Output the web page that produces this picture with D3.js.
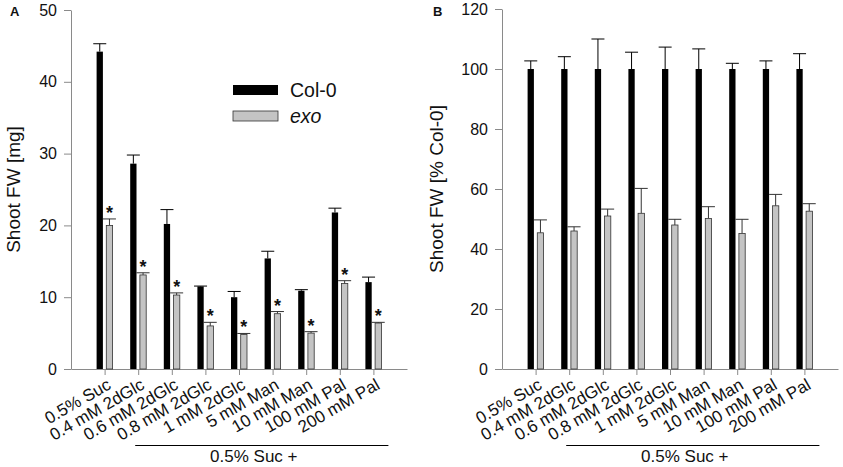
<!DOCTYPE html>
<html>
<head>
<meta charset="utf-8">
<script src="https://cdn.jsdelivr.net/npm/d3@7"></script>
<style>
  body { margin: 0; background: #fff; }
  svg text { font-family: "Liberation Sans", Arial, sans-serif; fill: #111; }
</style>
</head>
<body>
<div id="app"></div>
<script>
// treatments (same for both panels)
const CATEGORIES = ['0.5% Suc', '0.4 mM 2dGlc', '0.6 mM 2dGlc', '0.8 mM 2dGlc', '1 mM 2dGlc',
  '5 mM Man', '10 mM Man', '100 mM Pal', '200 mM Pal'];
const SERIES = ['Col-0', 'exo'];

// panel A: shoot fresh weight [mg]
const A_COL0 = [44.2, 28.6, 20.2, 11.5, 10.0, 15.4, 10.9, 21.8, 12.1];
const A_COL0_ERR = [1.1, 1.2, 2.0, 0.05, 0.8, 1.0, 0.15, 0.6, 0.7];
const A_EXO = [20.0, 13.1, 10.3, 6.0, 4.8, 7.7, 5.0, 11.9, 6.4];
const A_EXO_ERR = [0.9, 0.3, 0.3, 0.5, 0.15, 0.3, 0.2, 0.4, 0.1];
const A_TICKS = [0, 10, 20, 30, 40, 50];

// panel B: shoot fresh weight [% Col-0]
const B_COL0 = [100, 100, 100, 100, 100, 100, 100, 100, 100];
const B_COL0_ERR = [2.7, 4.1, 10.0, 5.6, 7.3, 6.7, 1.9, 2.7, 5.1];
const B_EXO = [45.4, 46.0, 51.0, 51.9, 48.0, 50.2, 45.2, 54.4, 52.6];
const B_EXO_ERR = [4.3, 1.4, 2.3, 8.3, 1.9, 3.9, 4.7, 3.8, 2.5];
const B_TICKS = [0, 20, 40, 60, 80, 100, 120];

const AXIS_COLOR = '#8a8a8a';

function buildPanel(svg, opts) {
  const panel = svg.append('g').attr('id', opts.id);

  const x = d3.scalePoint()
    .domain(CATEGORIES)
    .range([opts.left, opts.right])
    .padding(1);

  // the two bars sit either side of each tick
  const sub = d3.scaleBand()
    .domain(SERIES)
    .range([-8, 8])
    .paddingInner(0.35);

  const y = d3.scaleLinear()
    .domain([0, d3.max(opts.ticks)])
    .range([opts.bottom, opts.top]);

  const rows = CATEGORIES.map((c, i) => ({
    cat: c,
    bars: [
      {key: 'Col-0', value: opts.col0[i], err: opts.col0Err[i]},
      {key: 'exo', value: opts.exo[i], err: opts.exoErr[i]}
    ]
  }));

  // y axis
  const yAxis = panel.append('g')
    .attr('transform', `translate(${opts.left},0)`)
    .call(d3.axisLeft(y).tickValues(opts.ticks).tickSize(7).tickPadding(7).tickSizeOuter(0));
  yAxis.selectAll('path, line').attr('stroke', AXIS_COLOR);
  yAxis.selectAll('text').style('font-size', '16px').style('fill', '#111');

  // x axis
  const xAxis = panel.append('g')
    .attr('transform', `translate(0,${opts.bottom})`)
    .call(d3.axisBottom(x).tickSize(6).tickSizeOuter(0));
  xAxis.selectAll('path, line').attr('stroke', AXIS_COLOR);
  xAxis.selectAll('text')
    .attr('x', 0)
    .attr('y', 0)
    .attr('dy', 0)
    .attr('transform', 'translate(7,19) rotate(-30)')
    .style('text-anchor', 'end')
    .style('font-size', '17px')
    .style('fill', '#111');

  const groups = panel.append('g')
    .selectAll('g')
    .data(rows)
    .join('g')
    .attr('transform', d => `translate(${x(d.cat)},0)`);

  // error bars (upper only)
  groups.selectAll('g.err')
    .data(d => d.bars)
    .join('g')
    .attr('class', 'err')
    .each(function(d) {
      const g = d3.select(this);
      const cx = sub(d.key) + sub.bandwidth() / 2;
      const col = d.key === 'Col-0' ? '#000' : '#333';
      g.append('line')
        .attr('x1', cx).attr('x2', cx)
        .attr('y1', y(d.value)).attr('y2', y(d.value + d.err))
        .attr('stroke', col).attr('stroke-width', 1);
      g.append('line')
        .attr('x1', cx - 6.5).attr('x2', cx + 6.5)
        .attr('y1', y(d.value + d.err)).attr('y2', y(d.value + d.err))
        .attr('stroke', col).attr('stroke-width', 1);
    });

  groups.selectAll('rect')
    .data(d => d.bars)
    .join('rect')
    .attr('x', d => sub(d.key))
    .attr('y', d => y(d.value))
    .attr('width', sub.bandwidth())
    .attr('height', d => y(0) - y(d.value))
    .attr('fill', d => d.key === 'Col-0' ? '#000' : '#c4c4c4')
    .attr('stroke', d => d.key === 'Col-0' ? 'none' : '#333')
    .attr('stroke-width', 0.8);

  // significance stars
  if (opts.stars) {
    groups.append('text')
      .attr('x', sub('exo') + sub.bandwidth() / 2)
      .attr('y', d => y(d.bars[1].value + d.bars[1].err))
      .attr('text-anchor', 'middle')
      .style('font-size', '18px')
      .style('font-weight', 'bold')
      .text('*');
  }

  // y label
  panel.append('text')
    .attr('transform', `translate(${opts.labelX}, ${(opts.top + opts.bottom) / 2}) rotate(-90)`)
    .attr('text-anchor', 'middle')
    .attr('dominant-baseline', 'central')
    .style('font-size', '19px')
    .text(opts.yLabel);

  // panel letter
  panel.append('text')
    .attr('x', opts.letterX)
    .attr('y', 16)
    .style('font-size', '13px')
    .style('font-weight', 'bold')
    .text(opts.letter);

  // bracket under the treatments
  const bx1 = x(CATEGORIES[1]) - 3;
  const bx2 = x(CATEGORIES[8]) + 15;
  panel.append('line')
    .attr('x1', bx1).attr('x2', bx2)
    .attr('y1', 445.5).attr('y2', 445.5)
    .attr('stroke', '#000').attr('stroke-width', 1.2);
  panel.append('text')
    .attr('x', (bx1 + bx2) / 2 - 8)
    .attr('y', 462)
    .attr('text-anchor', 'middle')
    .style('font-size', '17px')
    .text('0.5% Suc +');

  return {panel, x, y};
}

function buildLegend(svg, lx, ly) {
  const legend = svg.append('g')
    .attr('id', 'legend')
    .attr('transform', `translate(${lx},${ly})`);
  const items = legend.selectAll('g')
    .data(SERIES)
    .join('g')
    .attr('transform', (d, i) => `translate(0,${i * 26})`);
  items.append('rect')
    .attr('width', 45)
    .attr('height', 10)
    .attr('fill', d => d === 'Col-0' ? '#000' : '#c4c4c4')
    .attr('stroke', d => d === 'Col-0' ? 'none' : '#333')
    .attr('stroke-width', 0.8);
  items.append('text')
    .attr('x', 57)
    .attr('y', 12)
    .style('font-size', '19.5px')
    .style('font-style', d => d === 'exo' ? 'italic' : 'normal')
    .text(d => d);
}

const svg = d3.select('#app')
  .append('svg')
  .attr('width', 843)
  .attr('height', 467);

buildPanel(svg, {
  id: 'panelA', letter: 'A', letterX: 10,
  left: 71, right: 407, top: 10, bottom: 369,
  ticks: A_TICKS, col0: A_COL0, col0Err: A_COL0_ERR, exo: A_EXO, exoErr: A_EXO_ERR,
  stars: true, yLabel: 'Shoot FW [mg]', labelX: 13
});

buildPanel(svg, {
  id: 'panelB', letter: 'B', letterX: 433,
  left: 502, right: 838, top: 9, bottom: 369,
  ticks: B_TICKS, col0: B_COL0, col0Err: B_COL0_ERR, exo: B_EXO, exoErr: B_EXO_ERR,
  stars: false, yLabel: 'Shoot FW [% Col-0]', labelX: 436
});

buildLegend(svg, 233, 85);
</script>
</body>
</html>
